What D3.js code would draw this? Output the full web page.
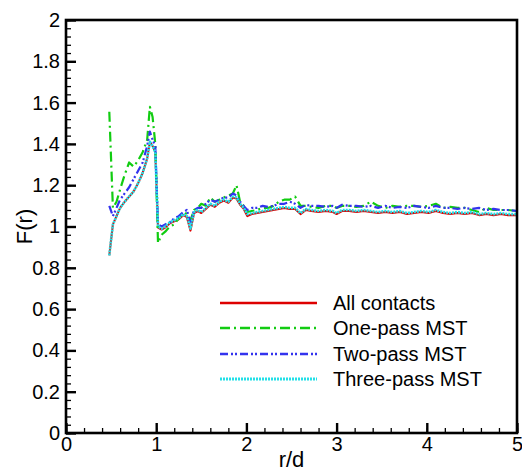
<!DOCTYPE html>
<html>
<head>
<meta charset="utf-8">
<script src="https://cdn.jsdelivr.net/npm/d3@7"></script>
<style>
  html, body { margin: 0; padding: 0; background: #fff; }
  svg { display: block; font-family: "Liberation Sans", Arial, Helvetica, sans-serif; }
</style>
</head>
<body>
<svg id="chart" width="522" height="471"></svg>
<script>
// Radial positions r/d shared by every series
const rValues = [0.48, 0.52, 0.56, 0.60, 0.65, 0.70, 0.75, 0.80, 0.85, 0.90,
  0.93, 0.96, 0.99, 1.02, 1.06, 1.10, 1.15, 1.20, 1.25, 1.30,
  1.34, 1.38, 1.42, 1.46, 1.50, 1.55, 1.60, 1.65, 1.70, 1.75,
  1.80, 1.85, 1.89, 1.93, 1.97, 2.01, 2.06, 2.12, 2.18, 2.24,
  2.30, 2.36, 2.42, 2.48, 2.54, 2.60, 2.66, 2.72, 2.80, 2.88,
  2.96, 3.00, 3.06, 3.14, 3.22, 3.30, 3.38, 3.46, 3.54, 3.62,
  3.70, 3.78, 3.86, 3.94, 4.02, 4.10, 4.18, 4.26, 4.34, 4.42,
  4.50, 4.58, 4.66, 4.74, 4.82, 4.90, 5.00];

const allContacts = [0.86, 1.01, 1.05, 1.09, 1.12, 1.145, 1.17, 1.21, 1.26, 1.33,
  1.41, 1.39, 1.36, 0.995, 0.985, 0.995, 1.015, 1.025, 1.035, 1.055,
  1.045, 0.98, 1.065, 1.075, 1.065, 1.085, 1.105, 1.095, 1.115, 1.125,
  1.115, 1.14, 1.135, 1.105, 1.085, 1.05, 1.06, 1.065, 1.07, 1.075,
  1.08, 1.085, 1.09, 1.085, 1.085, 1.06, 1.08, 1.075, 1.07, 1.075,
  1.07, 1.06, 1.075, 1.075, 1.07, 1.075, 1.07, 1.065, 1.07, 1.065,
  1.07, 1.06, 1.065, 1.07, 1.065, 1.075, 1.065, 1.06, 1.065, 1.06,
  1.065, 1.055, 1.06, 1.055, 1.06, 1.055, 1.055];

const onePass = [1.556, 1.09, 1.12, 1.18, 1.25, 1.31, 1.29, 1.32, 1.36, 1.42,
  1.58, 1.53, 1.40, 0.92, 0.96, 0.975, 1.00, 1.01, 1.04, 1.07,
  1.06, 1.03, 1.08, 1.09, 1.11, 1.10, 1.14, 1.12, 1.13, 1.14,
  1.15, 1.16, 1.20, 1.12, 1.10, 1.07, 1.075, 1.08, 1.09, 1.09,
  1.10, 1.12, 1.13, 1.13, 1.145, 1.10, 1.10, 1.095, 1.09, 1.10,
  1.10, 1.09, 1.10, 1.10, 1.095, 1.10, 1.12, 1.10, 1.09, 1.10,
  1.095, 1.10, 1.10, 1.095, 1.10, 1.11, 1.09, 1.095, 1.09, 1.09,
  1.08, 1.07, 1.09, 1.08, 1.08, 1.08, 1.075];

const twoPass = [1.10, 1.05, 1.09, 1.13, 1.16, 1.19, 1.23, 1.27, 1.31, 1.39,
  1.46, 1.42, 1.39, 1.01, 1.00, 1.01, 1.02, 1.04, 1.05, 1.07,
  1.08, 1.02, 1.08, 1.09, 1.09, 1.11, 1.13, 1.12, 1.13, 1.14,
  1.14, 1.16, 1.15, 1.12, 1.10, 1.08, 1.09, 1.09, 1.10, 1.095,
  1.10, 1.11, 1.11, 1.12, 1.11, 1.09, 1.105, 1.10, 1.10, 1.095,
  1.10, 1.09, 1.105, 1.10, 1.10, 1.095, 1.10, 1.09, 1.10, 1.09,
  1.095, 1.09, 1.10, 1.095, 1.09, 1.10, 1.09, 1.09, 1.085, 1.09,
  1.085, 1.09, 1.08, 1.085, 1.08, 1.08, 1.075];

const threePass = [0.86, 1.01, 1.05, 1.09, 1.12, 1.145, 1.17, 1.21, 1.26, 1.33,
  1.41, 1.39, 1.36, 1.00, 0.99, 1.00, 1.02, 1.03, 1.04, 1.06,
  1.05, 0.99, 1.07, 1.08, 1.07, 1.09, 1.11, 1.10, 1.12, 1.13,
  1.12, 1.145, 1.14, 1.11, 1.09, 1.06, 1.065, 1.07, 1.075, 1.08,
  1.085, 1.09, 1.095, 1.09, 1.09, 1.065, 1.085, 1.08, 1.075, 1.08,
  1.075, 1.065, 1.08, 1.08, 1.075, 1.08, 1.075, 1.07, 1.075, 1.07,
  1.075, 1.065, 1.07, 1.075, 1.07, 1.08, 1.07, 1.065, 1.07, 1.065,
  1.07, 1.06, 1.065, 1.06, 1.065, 1.06, 1.06];

const seriesNames = ["All contacts", "One-pass MST", "Two-pass MST", "Three-pass MST"];
const xTickLabels = [0, 1, 2, 3, 4, 5];
const yTickLabels = [0, 0.2, 0.4, 0.6, 0.8, 1, 1.2, 1.4, 1.6, 1.8, 2];

const series = [
  { name: seriesNames[0], values: allContacts, color: "#dd0000", dash: null, width: 2 },
  { name: seriesNames[1], values: onePass, color: "#11cc11", dash: "10,4,2,4", width: 2.2 },
  { name: seriesNames[2], values: twoPass, color: "#3333ee", dash: "8,3,2,2,2,3", width: 2.2 },
  { name: seriesNames[3], values: threePass, color: "#22e0e8", dash: "2,1", width: 2.6 }
];

const svg = d3.select("#chart");
const plotLeft = 66, plotRight = 517, plotTop = 20, plotBottom = 433;

const x = d3.scaleLinear().domain([0, 5]).range([plotLeft, plotRight]);
const y = d3.scaleLinear().domain([0, 2]).range([plotBottom, plotTop]);

// Curves, clipped to the plotting frame
svg.append("clipPath").attr("id", "plotClip")
  .append("rect").attr("x", plotLeft).attr("y", plotTop)
  .attr("width", plotRight - plotLeft).attr("height", plotBottom - plotTop);

const line = d3.line().x((d, i) => x(rValues[i])).y(d => y(d));
const curves = svg.append("g").attr("clip-path", "url(#plotClip)");
series.forEach(s => {
  curves.append("path")
    .attr("d", line(s.values))
    .attr("fill", "none")
    .attr("stroke", s.color)
    .attr("stroke-width", s.width)
    .attr("stroke-dasharray", s.dash)
    .attr("stroke-linejoin", "round");
});

// Axes: major ticks with labels, minor ticks, both drawn inward
const yAxis = d3.axisLeft(y).tickValues(yTickLabels).tickSize(-10)
  .tickFormat(d => d3.format("~g")(d)).tickPadding(6);
const yMinor = d3.axisLeft(y).tickValues(d3.range(0, 51).map(i => i * 0.04))
  .tickSize(-5).tickFormat("");
const xAxis = d3.axisBottom(x).tickValues(xTickLabels).tickSize(-10)
  .tickFormat(d3.format("d")).tickPadding(4);
const xMinor = d3.axisBottom(x).tickValues(d3.range(0, 26).map(i => i * 0.2))
  .tickSize(-5).tickFormat("");

function styleAxis(g) {
  g.select(".domain").remove();
  g.selectAll("line").attr("stroke", "#000").attr("stroke-width", 1.3);
  g.selectAll("text").attr("fill", "#000").attr("font-size", 20)
    .attr("font-family", "Liberation Sans, Arial, sans-serif");
}

svg.append("g").attr("transform", `translate(${plotLeft},0)`).call(yMinor).call(styleAxis);
svg.append("g").attr("transform", `translate(${plotLeft},0)`).call(yAxis).call(styleAxis)
  .selectAll(".tick line").attr("stroke-width", 2.4);
svg.append("g").attr("transform", `translate(0,${plotBottom})`).call(xMinor).call(styleAxis);
svg.append("g").attr("transform", `translate(0,${plotBottom})`).call(xAxis).call(styleAxis)
  .selectAll(".tick line").attr("stroke-width", 2.4);

// Frame
svg.append("rect")
  .attr("x", plotLeft).attr("y", plotTop)
  .attr("width", plotRight - plotLeft).attr("height", plotBottom - plotTop)
  .attr("fill", "none").attr("stroke", "#000").attr("stroke-width", 2.6);

// Axis titles
svg.append("text")
  .attr("transform", `translate(32,${(plotTop + plotBottom) / 2}) rotate(-90)`)
  .attr("text-anchor", "middle")
  .attr("font-size", 22)
  .text("F(r)");
svg.append("text")
  .attr("x", (plotLeft + plotRight) / 2).attr("y", 467)
  .attr("text-anchor", "middle")
  .attr("font-size", 22)
  .text("r/d");

// Legend
const legendRows = [303, 328, 354, 379];
const legend = svg.append("g");
series.forEach((s, i) => {
  legend.append("line")
    .attr("x1", 220).attr("x2", 317)
    .attr("y1", legendRows[i]).attr("y2", legendRows[i])
    .attr("stroke", s.color)
    .attr("stroke-width", s.width + 0.4)
    .attr("stroke-dasharray", s.dash);
  legend.append("text")
    .attr("x", 333).attr("y", legendRows[i])
    .attr("dy", "0.35em")
    .attr("font-size", 20)
    .text(s.name);
});
</script>
</body>
</html>
